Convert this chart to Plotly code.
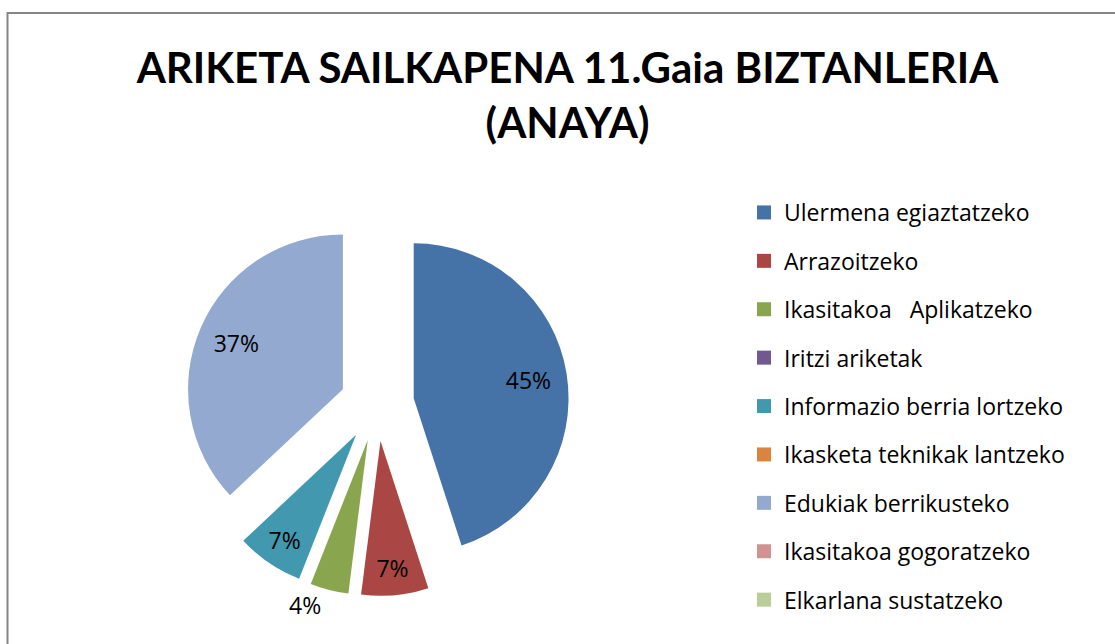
import plotly.graph_objects as go

labels = ["Ulermena egiaztatzeko", "Arrazoitzeko", "Ikasitakoa   Aplikatzeko",
          "Iritzi ariketak", "Informazio berria lortzeko", "Ikasketa teknikak lantzeko",
          "Edukiak berrikusteko", "Ikasitakoa gogoratzeko", "Elkarlana sustatzeko"]
values = [45, 7, 4, 0, 7, 0, 37, 0, 0]
colors = ["#4572A7", "#AA4643", "#89A54E", "#71588F", "#4198AF",
          "#DB843D", "#93A9CF", "#D19392", "#B9CD96"]
text_pos = ["inside", "inside", "outside", "inside", "inside",
            "inside", "inside", "inside", "inside"]

W, H = 1115, 644
dom = dict(x=[185 / W, 569 / W], y=[1 - 596 / H, 1 - 212 / H])
pull = [0.24] * len(values)

fig = go.Figure()
# filled slices, no text
fig.add_trace(go.Pie(
    labels=labels, values=values, sort=False, direction="clockwise", rotation=0,
    pull=pull, marker=dict(colors=colors, line=dict(width=0)),
    textinfo="none", hoverinfo="skip", showlegend=False, domain=dom,
))
# same pie as a transparent ring, so the percent labels sit further out like the original
fig.add_trace(go.Pie(
    labels=labels, values=values, sort=False, direction="clockwise", rotation=0,
    pull=pull, hole=0.5,
    marker=dict(colors=["rgba(0,0,0,0)"] * len(values), line=dict(width=0)),
    texttemplate=["%{percent:.0%}" if v > 0 else "" for v in values],
    textposition=text_pos,
    insidetextorientation="horizontal",
    textfont=dict(family="Open Sans", size=23, color="#000000"),
    hoverinfo="label+percent",
    showlegend=False, domain=dom,
))

# legend built from empty marker traces so the item spacing can be widened
for i, (lab, col) in enumerate(zip(labels, colors)):
    fig.add_trace(go.Scatter(
        x=[None], y=[None], mode="markers", name=lab, legendgroup=str(i),
        marker=dict(symbol="square", size=14, color=col),
    ))

fig.update_layout(
    width=W, height=H,
    margin=dict(l=0, r=0, t=0, b=0, autoexpand=False),
    paper_bgcolor="white", plot_bgcolor="white",
    xaxis=dict(visible=False), yaxis=dict(visible=False),
    title=dict(
        text="ARIKETA SAILKAPENA 11.Gaia BIZTANLERIA<br>(ANAYA)",
        x=0.509, xanchor="center", y=1 - 83 / H, yanchor="top", yref="container",
        font=dict(family="Lato", size=42, color="#000000", weight="bold"),
    ),
    legend=dict(
        x=744 / W, xanchor="left", y=1 - 191 / H, yanchor="top",
        font=dict(family="Open Sans", size=23, color="#000000"),
        tracegroupgap=15.5, bgcolor="rgba(0,0,0,0)",
    ),
    uniformtext=dict(minsize=23, mode="show"),
    shapes=[dict(type="rect", xref="paper", yref="paper",
                 x0=7.5 / W, y0=1 - 13 / H, x1=1.05, y1=-0.05,
                 line=dict(color="#868686", width=2))],
)

fig.write_html("out.html", config={"displayModeBar": False},
               post_script="document.body.style.margin='0';")
